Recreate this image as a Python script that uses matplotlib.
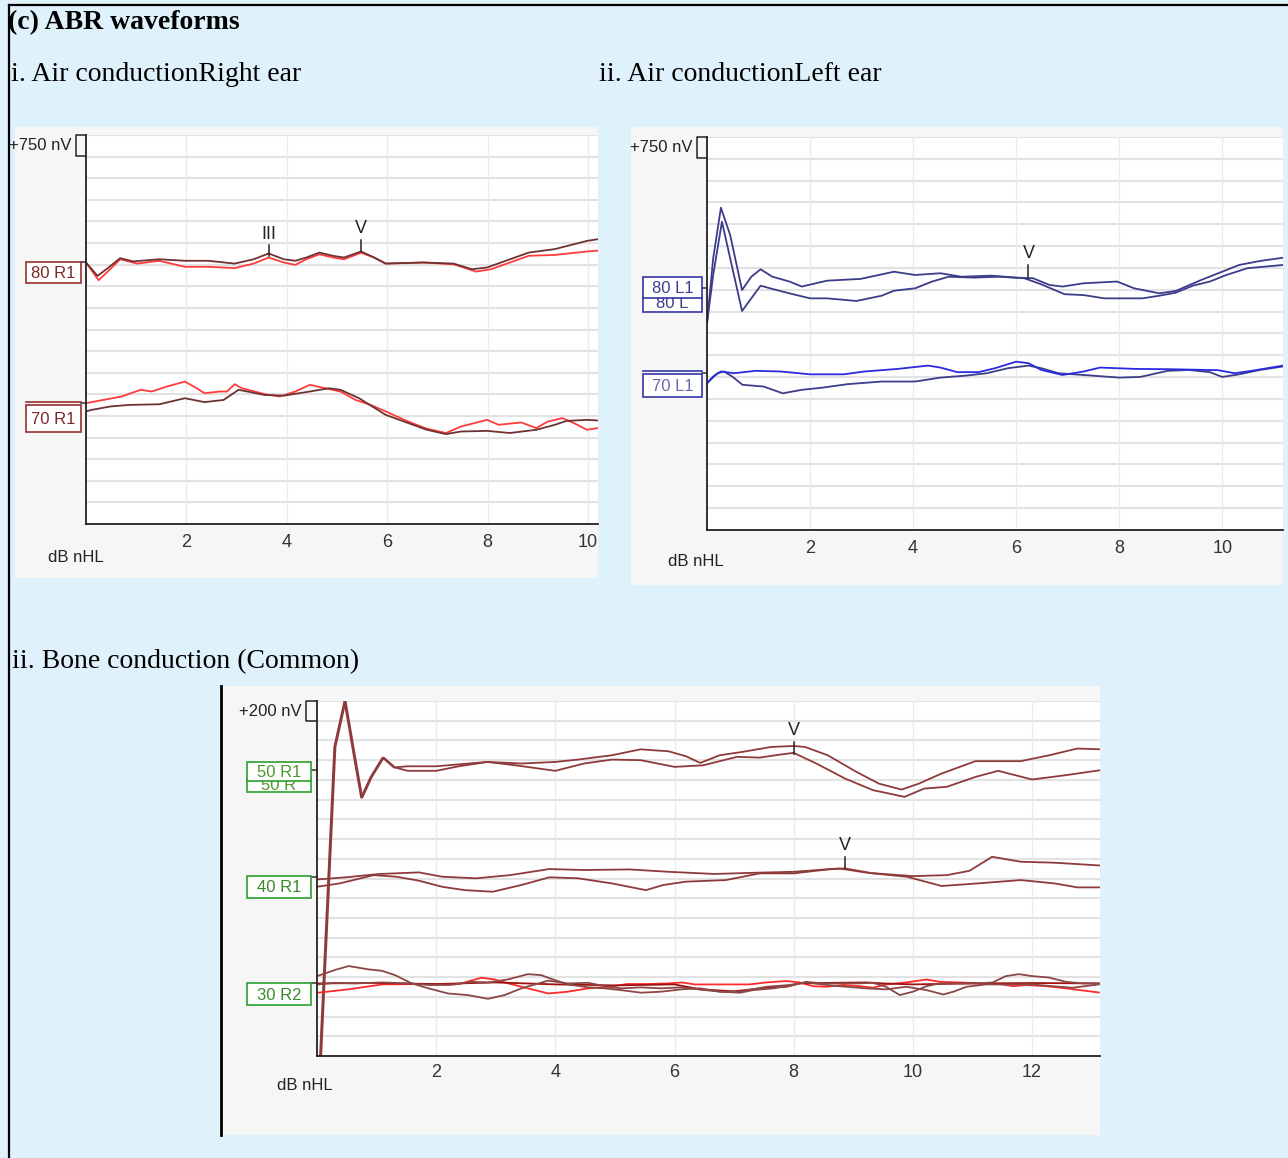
import numpy as np
import matplotlib
matplotlib.use('Agg')
import matplotlib.pyplot as plt
from matplotlib.patches import Rectangle
from matplotlib import font_manager

# ---- waveform data (time in ms, amplitude in grid divisions relative to the trace baseline)
# i. air conduction, right ear
r80_dark_t = [0.0, 0.23, 0.45, 0.68, 0.94, 1.46, 1.97, 2.44, 2.96, 3.34, 3.64, 3.94, 4.17, 4.39,
              4.65, 4.92, 5.14, 5.48, 5.74, 5.97, 6.72, 7.32, 7.69, 7.99, 8.82, 9.34, 9.98, 10.2]
r80_dark_v = [0.0, -0.62, -0.23, 0.2, 0.05, 0.15, 0.08, 0.08, -0.05, 0.15, 0.42, 0.15, 0.08, 0.23,
              0.46, 0.31, 0.23, 0.51, 0.23, -0.05, 0.0, -0.05, -0.31, -0.23, 0.46, 0.62, 1.0, 1.08]
r80_red_t = [0.0, 0.25, 0.45, 0.68, 1.02, 1.46, 1.97, 2.44, 2.96, 3.34, 3.64, 3.94, 4.17, 4.39,
             4.65, 4.92, 5.14, 5.48, 5.74, 5.97, 6.72, 7.32, 7.77, 8.07, 8.82, 9.34, 9.98, 10.2]
r80_red_v = [0.0, -0.82, -0.38, 0.15, -0.05, 0.08, -0.2, -0.2, -0.26, -0.05, 0.23, 0.0, -0.11, 0.15,
             0.38, 0.23, 0.15, 0.45, 0.23, -0.05, 0.0, -0.08, -0.42, -0.31, 0.31, 0.35, 0.51, 0.55]
r70_red_t = [0.0, 0.34, 0.71, 1.09, 1.31, 1.61, 1.97, 2.21, 2.36, 2.66, 2.81, 2.96, 3.11, 3.56, 3.86,
             4.17, 4.46, 4.77, 5.07, 5.37, 5.67, 5.97, 6.42, 6.79, 7.17, 7.47, 7.99, 8.22, 8.67, 8.97,
             9.2, 9.49, 9.72, 9.98, 10.2]
r70_red_v = [0.0, 0.15, 0.31, 0.62, 0.54, 0.77, 1.0, 0.69, 0.46, 0.54, 0.54, 0.88, 0.69, 0.42, 0.31,
             0.54, 0.85, 0.69, 0.54, 0.15, -0.08, -0.38, -0.85, -1.18, -1.38, -1.08, -0.77, -1.0, -0.89,
             -1.15, -0.85, -0.69, -0.92, -1.23, -1.15]
r70_dark_t = [0.0, 0.11, 0.49, 0.86, 1.46, 1.97, 2.36, 2.74, 3.04, 3.56, 3.94, 4.46, 4.84, 5.07, 5.44,
              5.97, 6.42, 6.79, 7.17, 7.47, 7.99, 8.44, 8.97, 9.34, 9.57, 9.98, 10.2]
r70_dark_v = [-0.38, -0.31, -0.15, -0.08, -0.05, 0.23, 0.05, 0.15, 0.62, 0.38, 0.35, 0.54, 0.69, 0.62,
              0.23, -0.54, -0.92, -1.23, -1.43, -1.31, -1.28, -1.38, -1.23, -1.0, -0.82, -0.77, -0.8]

# ii. air conduction, left ear
l80_a_t = [0.0, 0.12, 0.27, 0.45, 0.68, 0.86, 1.04, 1.27, 1.6, 1.84, 2.33, 2.98, 3.63, 4.04, 4.53,
           4.94, 5.51, 6.0, 6.33, 6.65, 6.9, 7.31, 7.96, 8.29, 8.78, 9.1, 9.59, 10.0, 10.33, 10.73, 11.18]
l80_a_v = [-1.6, 1.37, 3.69, 2.44, -0.08, 0.53, 0.87, 0.53, 0.31, 0.08, 0.35, 0.43, 0.76, 0.61, 0.69,
           0.53, 0.58, 0.49, 0.46, 0.15, 0.08, 0.23, 0.31, 0.0, -0.23, -0.12, 0.38, 0.76, 1.07, 1.25, 1.4]
l80_b_t = [0.0, 0.12, 0.29, 0.45, 0.68, 0.86, 1.04, 1.27, 1.6, 2.0, 2.33, 2.9, 3.39, 3.63, 4.04, 4.37,
           4.69, 5.18, 5.67, 6.16, 6.49, 6.94, 7.31, 7.71, 8.45, 8.78, 9.1, 9.43, 9.76, 10.08, 10.49, 11.18]
l80_b_v = [-1.6, 0.61, 3.05, 1.37, -1.04, -0.46, 0.12, -0.03, -0.23, -0.46, -0.46, -0.58, -0.34, -0.11,
           0.0, 0.31, 0.53, 0.49, 0.53, 0.46, 0.18, -0.27, -0.31, -0.46, -0.46, -0.34, -0.2, 0.12, 0.31,
           0.61, 0.92, 1.07]
l70_a_t = [0.0, 0.12, 0.27, 0.53, 0.94, 1.43, 2.0, 2.65, 3.06, 3.71, 4.29, 4.53, 4.86, 5.27, 5.59, 6.0,
           6.24, 6.49, 6.9, 7.31, 7.63, 8.29, 9.1, 9.92, 10.24, 10.57, 11.18]
l70_a_v = [-0.46, -0.15, 0.08, 0.0, 0.11, 0.08, -0.05, -0.05, 0.08, 0.2, 0.35, 0.26, 0.05, 0.05, 0.23,
           0.53, 0.46, 0.15, -0.08, 0.08, 0.26, 0.2, 0.18, 0.14, 0.0, 0.11, 0.35]
l70_b_t = [0.0, 0.2, 0.33, 0.49, 0.69, 1.1, 1.47, 1.84, 2.24, 2.73, 3.39, 4.04, 4.53, 5.02, 5.43, 5.84,
           6.24, 6.49, 6.82, 7.31, 8.0, 8.41, 8.94, 9.35, 9.76, 10.0, 10.33, 10.73, 11.18]
l70_b_v = [-0.46, 0.0, 0.08, -0.15, -0.53, -0.61, -0.92, -0.76, -0.66, -0.5, -0.38, -0.38, -0.2, -0.11,
           0.0, 0.23, 0.35, 0.23, 0.0, -0.08, -0.2, -0.17, 0.11, 0.15, 0.05, -0.17, -0.05, 0.15, 0.31]

# iii. bone conduction
artifact_t = [0.05, 0.29, 0.46, 0.62, 0.74, 0.9, 1.1, 1.29]
artifact_v = [-14.5, 1.18, 3.51, 0.68, -1.39, -0.34, 0.64, 0.14]
b50_a_t = [1.52, 2.0, 2.86, 3.43, 4.0, 4.38, 4.95, 5.43, 5.9, 6.19, 6.43, 6.76, 7.14, 7.62, 8.0, 8.19,
           8.57, 9.05, 9.43, 9.81, 10.1, 10.48, 11.05, 11.81, 12.29, 12.76, 13.14]
b50_a_v = [0.2, 0.2, 0.42, 0.34, 0.42, 0.54, 0.76, 1.06, 0.96, 0.71, 0.37, 0.76, 0.93, 1.18, 1.23, 1.18,
           0.76, -0.08, -0.68, -0.98, -0.68, -0.17, 0.46, 0.46, 0.76, 1.1, 1.06]
b50_b_t = [1.52, 2.0, 2.38, 2.86, 3.33, 4.0, 4.48, 4.95, 5.43, 6.0, 6.48, 7.05, 7.43, 7.81, 8.0, 8.38,
           8.86, 9.33, 9.86, 10.19, 10.57, 11.05, 11.43, 12.0, 12.57, 13.14]
b50_b_v = [-0.03, -0.03, 0.2, 0.42, 0.25, -0.03, 0.34, 0.54, 0.51, 0.17, 0.25, 0.68, 0.64, 0.81, 0.88,
           0.34, -0.42, -1.01, -1.35, -0.93, -0.84, -0.34, -0.03, -0.47, -0.25, 0.0]
b40_a_t = [0.0, 0.48, 1.05, 1.71, 2.1, 2.67, 3.24, 3.9, 4.48, 5.24, 5.9, 6.67, 7.33, 8.0, 8.76, 9.24,
           10.0, 10.57, 10.95, 11.33, 11.81, 12.38, 13.14]
b40_a_v = [-0.14, -0.03, 0.14, 0.22, 0.0, -0.08, 0.08, 0.39, 0.34, 0.37, 0.25, 0.14, 0.2, 0.25, 0.42,
           0.2, 0.03, 0.08, 0.3, 1.01, 0.76, 0.71, 0.57]
b40_b_t = [0.0, 0.38, 0.95, 1.33, 1.71, 2.1, 2.48, 2.95, 3.43, 3.9, 4.38, 4.95, 5.52, 5.81, 6.19, 6.86,
           7.43, 8.0, 8.57, 8.86, 9.33, 9.9, 10.48, 10.95, 11.81, 12.38, 12.76, 13.14]
b40_b_v = [-0.51, -0.34, 0.08, 0.0, -0.2, -0.51, -0.68, -0.76, -0.42, -0.03, -0.08, -0.34, -0.68, -0.42,
           -0.25, -0.17, 0.17, 0.17, 0.37, 0.42, 0.17, 0.0, -0.47, -0.37, -0.17, -0.34, -0.54, -0.54]
b30_red_t = [0.02, 0.53, 1.09, 1.64, 2.2, 2.42, 2.76, 2.98, 3.21, 3.54, 3.88, 4.21, 4.55, 4.88, 5.21,
             5.56, 5.9, 6.12, 6.34, 6.68, 7.26, 7.54, 7.88, 8.1, 8.32, 8.55, 8.83, 9.11, 9.33, 9.55,
             9.89, 10.23, 10.45, 10.79, 11.12, 11.45, 11.68, 11.9, 12.23, 12.57, 13.12]
b30_red_v = [-0.47, -0.3, -0.05, -0.03, -0.08, 0.0, 0.29, 0.2, 0.0, -0.25, -0.51, -0.42, -0.25, -0.17,
             -0.03, -0.03, 0.0, 0.05, -0.05, -0.05, -0.05, 0.05, 0.12, 0.05, -0.14, -0.17, -0.08, -0.14,
             -0.22, -0.05, 0.05, 0.2, 0.08, 0.05, 0.0, -0.03, -0.14, -0.08, -0.14, -0.25, -0.46]
b30_p_t = [0.02, 0.3, 0.53, 0.87, 1.09, 1.31, 1.59, 1.87, 2.2, 2.53, 2.87, 3.15, 3.43, 3.88, 4.21, 4.55,
           4.83, 5.1, 5.44, 5.77, 6.12, 6.45, 6.77, 7.1, 7.54, 7.93, 8.21, 8.55, 8.88, 9.22, 9.55, 9.89,
           10.23, 10.51, 10.68, 10.9, 11.23, 11.68, 12.0, 12.34, 12.68, 13.12]
b30_p_v = [0.39, 0.68, 0.88, 0.71, 0.64, 0.42, 0.0, -0.25, -0.51, -0.59, -0.78, -0.59, -0.25, 0.14, 0.0,
           0.03, -0.14, -0.25, -0.2, -0.25, -0.2, -0.32, -0.42, -0.42, -0.17, -0.08, 0.05, -0.08, -0.17,
           -0.25, -0.3, -0.17, -0.34, -0.56, -0.42, -0.17, -0.05, -0.05, -0.05, -0.14, -0.22, -0.05]
b30_q_t = [0.02, 0.3, 0.64, 1.09, 1.53, 1.92, 2.31, 2.59, 2.87, 3.2, 3.54, 3.76, 3.99, 4.21, 4.55, 4.83,
           5.1, 5.44, 5.77, 6.12, 6.43, 6.77, 7.1, 7.32, 7.65, 7.93, 8.21, 8.49, 8.77, 9.05, 9.33, 9.55,
           9.78, 10.0, 10.23, 10.45, 10.79, 11.12, 11.34, 11.56, 11.78, 12.0, 12.28, 12.57, 12.85, 13.12]
b30_q_v = [-0.05, 0.03, 0.0, 0.05, 0.0, -0.08, -0.05, 0.08, 0.05, 0.2, 0.47, 0.42, 0.17, -0.05, -0.2,
           -0.25, -0.34, -0.47, -0.42, -0.3, -0.25, -0.42, -0.47, -0.34, -0.25, -0.12, 0.08, 0.0, 0.0,
           0.0, 0.03, -0.17, -0.59, -0.42, -0.14, 0.0, 0.0, 0.0, 0.05, 0.37, 0.47, 0.37, 0.3, 0.08, 0.0, 0.0]
b30_flat_t = [0.0, 1.0, 2.0, 3.0, 4.0, 5.0, 6.0, 6.43, 7.0, 7.54, 7.88, 8.1, 8.66, 9.22, 9.5, 10.0,
              11.0, 12.0, 13.12]
b30_flat_v = [0.0, 0.02, -0.03, 0.05, -0.05, -0.1, -0.05, -0.3, -0.4, -0.22, -0.17, 0.0, 0.03, 0.05,
              0.0, -0.05, 0.0, 0.02, 0.0]

W, H = 1288, 1158
fig = plt.figure(figsize=(W / 100, H / 100), dpi=100, facecolor='#dff1fb')

names = {f.name for f in font_manager.fontManager.ttflist}
if 'Liberation Sans Narrow' in names:
    SANS, FS, FT = 'Liberation Sans Narrow', 13.5, 14
else:
    SANS, FS, FT = 'Liberation Sans', 12, 13
SERIF = 'Liberation Serif' if 'Liberation Serif' in names else 'DejaVu Serif'

# background layer in pixel coordinates
bg = fig.add_axes([0, 0, 1, 1], zorder=0)
bg.set_xlim(0, W)
bg.set_ylim(H, 0)
bg.axis('off')

for (l, t, r, b) in [(15, 127, 598, 578), (631, 127, 1283, 585), (221, 686, 1100, 1135)]:
    bg.add_patch(Rectangle((l, t), r - l, b - t, facecolor='#f6f6f6', edgecolor='none'))
bg.plot([9, W], [5, 5], color='black', lw=1.6)
bg.plot([9, 9], [5, H], color='black', lw=1.6)
bg.plot([221, 221], [686, 1135], color='black', lw=2.0)

bg.text(8, 29, '(c) ABR waveforms', fontsize=20, fontweight='bold', family=SERIF, va='baseline')
bg.text(11, 81, 'i. Air conductionRight ear', fontsize=20, family=SERIF, va='baseline')
bg.text(599, 81, 'ii. Air conductionLeft ear', fontsize=20, family=SERIF, va='baseline')
bg.text(12, 668, 'ii. Bone conduction (Common)', fontsize=20, family=SERIF, va='baseline')


def px_axes(l, t, r, b):
    return fig.add_axes([l / W, 1 - b / H, (r - l) / W, (b - t) / H], zorder=1)


def setup(ax, xmax, ticks, pad):
    ax.set_xlim(0, xmax)
    ax.set_ylim(0, 18)
    ax.set_facecolor('white')
    for k in range(1, 19):
        ax.axhline(k, color='#e2e2e2', lw=1.5, zorder=0)
    for t in ticks:
        ax.axvline(t, color='#ebebeb', lw=1.0, zorder=0)
    for s in ['top', 'right']:
        ax.spines[s].set_visible(False)
    for s in ['left', 'bottom']:
        ax.spines[s].set_color('#222222')
        ax.spines[s].set_linewidth(1.3)
    ax.set_yticks([])
    ax.set_xticks(ticks)
    ax.set_xticklabels([str(t) for t in ticks], family=SANS, fontsize=FT, color='#333333')
    ax.tick_params(axis='x', length=0, pad=pad)


def trace(ax, base, t, v, color, lw=1.3):
    ax.plot(t, base + np.array(v), color=color, lw=lw, solid_joinstyle='round', clip_on=True)


def peak(ax, x, base, lo, hi, lab, txt_off):
    ax.plot([x, x], [base + lo, base + hi], color='#222222', lw=1.1)
    ax.text(x, base + txt_off, lab, ha='center', va='center', family=SANS, fontsize=FT, color='#222222')


def chan_box(x0, x1, y0, y1, ax_x, tick_y, text, edge, tcol, ghost=None, double=False):
    if ghost is not None:
        bg.add_patch(Rectangle((x0, y1 - 2), x1 - x0, ghost - y1 + 2, facecolor='white',
                               edgecolor=edge, lw=1.2))
        bg.text((x0 + x1) / 2, y1 + 5, text.split()[0] + ' ' + text.split()[1][0], ha='center',
                va='center', family=SANS, fontsize=FS, color=tcol, clip_on=True)
    if double:
        bg.plot([x0, x1], [y0 - 3, y0 - 3], color=edge, lw=1.2)
    bg.add_patch(Rectangle((x0, y0), x1 - x0, y1 - y0, facecolor='white', edgecolor=edge, lw=1.2,
                           zorder=3))
    bg.text((x0 + x1) / 2, (y0 + y1) / 2 + 1, text, ha='center', va='center', family=SANS,
            fontsize=FS, color=tcol, zorder=4)
    bg.plot([x1, ax_x], [tick_y, tick_y], color='#333333', lw=1.1)


def scale_bar(x0, x1, y0, y1, text):
    bg.plot([x1, x0, x0, x1], [y0, y0, y1, y1], color='#222222', lw=1.1)
    bg.text(x0 - 4, (y0 + y1) / 2, text, ha='right', va='center', family=SANS, fontsize=FS,
            color='#222222')


# ---- panel i
ax1 = px_axes(86, 135, 598, 524)
setup(ax1, 10.2, [2, 4, 6, 8, 10], 7)
base80, base70 = 12.1, 5.59
trace(ax1, base80, r80_red_t, r80_red_v, '#ff3c3c')
trace(ax1, base80, r80_dark_t, r80_dark_v, '#6e3232')
trace(ax1, base70, r70_red_t, r70_red_v, '#ff3c3c')
trace(ax1, base70, r70_dark_t, r70_dark_v, '#6e3232')
peak(ax1, 3.64, base80, 0.28, 0.82, 'III', 1.28)
peak(ax1, 5.48, base80, 0.51, 1.05, 'V', 1.59)
scale_bar(76, 86, 135, 156, '+750 nV')
chan_box(26, 81, 262, 283, 86, 262, '80 R1', '#9a3030', '#7a2828')
chan_box(26, 81, 405, 432, 86, 403, '70 R1', '#9a3030', '#7a2828', double=True)
bg.text(76, 557, 'dB nHL', ha='center', va='center', family=SANS, fontsize=FS, color='#222222')

# ---- panel ii
ax2 = px_axes(707, 137, 1283, 530)
setup(ax2, 11.18, [2, 4, 6, 8, 10], 7)
bL80, bL70 = 11.07, 7.18
trace(ax2, bL80, l80_a_t, l80_a_v, '#3c3c8a')
trace(ax2, bL80, l80_b_t, l80_b_v, '#3c3c8a')
trace(ax2, bL70, l70_b_t, l70_b_v, '#3c3c8a')
trace(ax2, bL70, l70_a_t, l70_a_v, '#2a2ae0')
peak(ax2, 6.24, bL80, 0.45, 1.06, 'V', 1.59)
scale_bar(697, 707, 137, 158, '+750 nV')
chan_box(643, 702, 277, 298, 707, 288, '80 L1', '#3535a5', '#3c3c90', ghost=312)
chan_box(643, 702, 374, 397, 707, 373, '70 L1', '#3535a5', '#6a6aa8', double=True)
bg.text(696, 562, 'dB nHL', ha='center', va='center', family=SANS, fontsize=FS, color='#222222')

# ---- panel iii
ax3 = px_axes(317, 701, 1100, 1056)
setup(ax3, 13.14, [2, 4, 6, 8, 10, 12], 6)
b50, b40, b30 = 14.49, 9.09, 3.68
brown = '#8e3a3a'
trace(ax3, b50, artifact_t + b50_a_t, artifact_v + b50_a_v, brown)
trace(ax3, b50, [t + 0.02 for t in artifact_t] + b50_b_t, artifact_v + b50_b_v, brown)
trace(ax3, b40, b40_a_t, b40_a_v, brown)
trace(ax3, b40, b40_b_t, b40_b_v, brown)
trace(ax3, b30, b30_red_t, b30_red_v, '#ff2a2a')
trace(ax3, b30, b30_flat_t, b30_flat_v, '#a01010')
trace(ax3, b30, b30_p_t, b30_p_v, '#8c4646')
trace(ax3, b30, b30_q_t, b30_q_v, '#8c4646')
peak(ax3, 8.0, b50, 0.84, 1.44, 'V', 2.03)
peak(ax3, 8.86, b40, 0.42, 1.01, 'V', 1.6)
scale_bar(306, 317, 701, 721, '+200 nV')
chan_box(247, 311, 762, 781, 317, 770, '50 R1', '#2ca02c', '#4a9a2a', ghost=792)
chan_box(247, 311, 876, 898, 317, 877, '40 R1', '#2ca02c', '#3a8a2a')
chan_box(247, 311, 983, 1005, 317, 983, '30 R2', '#2ca02c', '#3a8a2a')
bg.text(305, 1085, 'dB nHL', ha='center', va='center', family=SANS, fontsize=FS, color='#222222')

fig.savefig('out.png', dpi=100, facecolor=fig.get_facecolor())
